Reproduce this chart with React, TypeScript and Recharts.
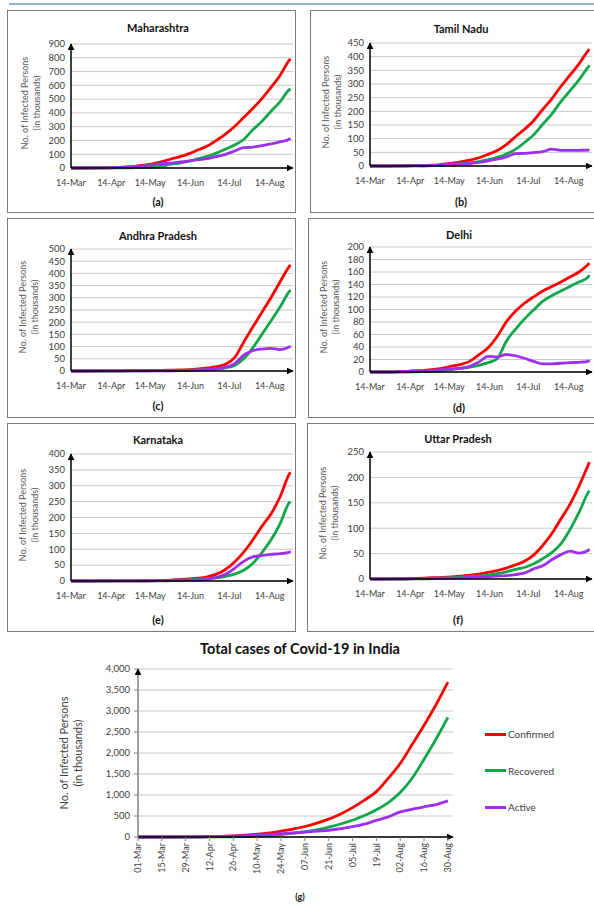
import { LineChart, Line, XAxis, YAxis, CartesianGrid, Legend } from 'recharts'

const FONT = 'Lato, "Open Sans", sans-serif'
const RED = '#FF0000'
const GREEN = '#10A64A'
const PURPLE = '#9D30EF'
const LINE_W = 2.8

// state panels: days counted from 14-Mar, sampled weekly up to 30-Aug
const stateDays = [0, 7, 14, 21, 28, 35, 42, 49, 56, 63, 70, 77, 84, 91, 98, 105, 112, 119, 126, 133, 140, 147, 154, 161, 168, 169]
const stateTicks = [0, 31, 61, 92, 122, 153]
const stateTickLabels = ['14-Mar', '14-Apr', '14-May', '14-Jun', '14-Jul', '14-Aug']

const mhConfirmed = [0.01, 0.06, 0.19, 0.64, 1.76, 3.65, 7.63, 12.3, 20.2, 30.7, 47.2, 65.2, 82.9, 104.6, 132.1, 159.1, 200.1, 246.6, 300.9, 366.4, 431.7, 503.1, 584.8, 671.9, 780.7, 792.5]
const mhRecovered = [0, 0, 0.02, 0.05, 0.2, 0.5, 1.3, 2.1, 3.5, 7.1, 13.4, 28.1, 36.1, 49.3, 67.7, 84.2, 108.1, 136.9, 167.0, 207.2, 276.8, 338.4, 410.7, 480.1, 566.9, 573.6]
const mhActive = [0.01, 0.06, 0.17, 0.55, 1.4, 2.95, 6.0, 9.7, 15.8, 22.5, 32.3, 35.2, 43.6, 51.4, 60.4, 67.6, 83.3, 99.2, 123.4, 147.9, 152.0, 162.0, 175.0, 190.0, 208.0, 216.0]
const mhTicks = [0, 100, 200, 300, 400, 500, 600, 700, 800, 900]

const tnConfirmed = [0, 0.01, 0.04, 0.48, 0.97, 1.37, 1.82, 2.76, 6.5, 10.6, 15.5, 21.2, 30.2, 42.7, 56.8, 78.3, 107.0, 134.2, 165.7, 206.7, 245.9, 290.9, 332.1, 373.4, 422.1, 428.0]
const tnRecovered = [0, 0, 0, 0.01, 0.05, 0.28, 0.96, 1.3, 1.8, 3.0, 7.5, 12.0, 16.4, 23.4, 31.3, 44.1, 60.6, 85.9, 113.9, 152.6, 189.9, 235.1, 274.6, 315.3, 362.1, 368.1]
const tnActive = [0, 0.01, 0.04, 0.47, 0.9, 1.1, 0.85, 1.4, 4.7, 7.5, 7.9, 9.1, 13.5, 18.9, 24.8, 33.2, 45.0, 46.3, 49.0, 52.5, 62.0, 57.0, 57.0, 57.5, 58.0, 57.0]
const tnTicks = [0, 50, 100, 150, 200, 250, 300, 350, 400, 450]

const apConfirmed = [0, 0, 0.02, 0.19, 0.4, 0.6, 1.06, 1.46, 1.9, 2.3, 2.7, 3.4, 4.3, 5.7, 8.5, 12.3, 17.7, 28.0, 55.0, 118.0, 180.0, 240.0, 300.0, 365.0, 428.0, 435.0]
const apRecovered = [0, 0, 0, 0, 0.01, 0.04, 0.19, 0.49, 0.84, 1.3, 1.7, 2.2, 2.6, 3.4, 4.3, 5.9, 8.4, 13.2, 22.9, 50.0, 95.0, 150.0, 205.0, 262.0, 325.0, 332.0]
const apActive = [0, 0, 0.02, 0.19, 0.38, 0.54, 0.84, 0.94, 1.0, 0.95, 0.95, 1.1, 1.6, 2.2, 4.1, 6.2, 9.1, 15.0, 30.0, 65.0, 83.0, 90.0, 93.0, 88.0, 98.0, 103.0]
const apTicks = [0, 50, 100, 150, 200, 250, 300, 350, 400, 450, 500]

const dlConfirmed = [0, 0.03, 0.04, 0.45, 1.07, 1.9, 2.6, 4.1, 6.3, 9.3, 12.3, 17.4, 27.7, 38.9, 56.7, 80.2, 97.2, 110.0, 120.1, 129.5, 136.7, 144.1, 151.9, 160.0, 172.0, 174.0]
const dlRecovered = [0, 0, 0, 0.02, 0.03, 0.07, 0.9, 1.3, 2.0, 4.0, 6.0, 8.0, 10.7, 14.9, 21.3, 49.3, 68.3, 84.7, 99.2, 112.9, 122.1, 129.5, 136.9, 144.0, 152.0, 155.0]
const dlActive = [0, 0.03, 0.04, 0.43, 1.03, 1.8, 1.6, 2.7, 4.2, 5.1, 6.0, 9.0, 16.2, 25.0, 24.0, 28.0, 26.0, 22.0, 17.0, 13.0, 13.0, 14.0, 15.0, 15.5, 17.0, 19.0]
const dlTicks = [0, 20, 40, 60, 80, 100, 120, 140, 160, 180, 200]

const kaConfirmed = [0, 0.01, 0.08, 0.14, 0.21, 0.38, 0.5, 0.6, 0.8, 1.1, 1.9, 2.9, 4.8, 6.5, 8.9, 13.2, 21.5, 36.2, 59.7, 90.9, 129.3, 172.1, 211.1, 264.5, 335.9, 342.4]
const kaRecovered = [0, 0, 0, 0.01, 0.03, 0.1, 0.2, 0.3, 0.4, 0.5, 0.6, 0.9, 1.6, 3.4, 5.6, 7.5, 9.8, 14.7, 21.8, 33.8, 55.4, 89.2, 128.8, 180.1, 246.0, 250.0]
const kaActive = [0, 0.01, 0.08, 0.13, 0.17, 0.26, 0.28, 0.27, 0.35, 0.55, 1.3, 1.9, 3.1, 3.0, 3.2, 5.5, 11.4, 20.9, 40.0, 62.0, 76.0, 80.0, 84.0, 86.0, 90.0, 94.0]
const kaTicks = [0, 50, 100, 150, 200, 250, 300, 350, 400]

const upConfirmed = [0, 0.02, 0.06, 0.23, 0.45, 0.97, 1.6, 2.5, 3.2, 4.3, 5.7, 7.7, 9.7, 13.1, 16.6, 21.5, 27.7, 35.1, 47.0, 66.0, 89.0, 118.0, 147.0, 183.0, 224.0, 230.0]
const upRecovered = [0, 0, 0.01, 0.02, 0.05, 0.1, 0.3, 0.7, 1.6, 2.5, 3.4, 4.6, 5.6, 8.0, 10.4, 14.2, 18.8, 22.7, 29.8, 39.9, 52.0, 69.0, 97.0, 131.0, 170.0, 174.0]
const upActive = [0, 0.02, 0.05, 0.2, 0.4, 0.85, 1.3, 1.8, 1.6, 1.8, 2.2, 3.0, 3.8, 4.8, 5.8, 6.8, 8.8, 12.0, 20.0, 26.0, 38.0, 48.0, 55.0, 51.0, 56.0, 59.0]
const upTicks = [0, 50, 100, 150, 200, 250]

// all-India chart: days counted from 01-Mar, weekly
const indiaDays = [0, 7, 14, 21, 28, 35, 42, 49, 56, 63, 70, 77, 84, 91, 98, 105, 112, 119, 126, 133, 140, 147, 154, 161, 168, 175, 182]
const indiaTicks = [0, 14, 28, 42, 56, 70, 84, 98, 112, 126, 140, 154, 168, 182]
const indiaTickLabels = ['01-Mar', '15-Mar', '29-Mar', '12-Apr', '26-Apr', '10-May', '24-May', '07-Jun', '21-Jun', '05-Jul', '19-Jul', '02-Aug', '16-Aug', '30-Aug']
const indiaConfirmed = [0, 0.04, 0.11, 0.4, 1.1, 3.6, 9.2, 16, 28, 42, 67, 95, 139, 190, 250, 330, 425, 550, 700, 880, 1080, 1400, 1750, 2200, 2660, 3150, 3690]
const indiaRecovered = [0, 0, 0, 0.02, 0.1, 0.3, 1, 2.5, 6, 11, 20, 35, 57, 90, 125, 170, 235, 310, 400, 510, 650, 820, 1060, 1400, 1850, 2330, 2850]
const indiaActive = [0, 0.04, 0.1, 0.37, 1, 3.2, 8, 13, 21, 29, 44, 56, 78, 95, 115, 140, 160, 200, 245, 305, 395, 480, 600, 660, 720, 770, 860]
const indiaYTicks = [0, 500, 1000, 1500, 2000, 2500, 3000, 3500, 4000]
const legendOrder = ['Confirmed', 'Recovered', 'Active']

const panels = [
  { id: 'a', title: 'Maharashtra', confirmed: mhConfirmed, recovered: mhRecovered, active: mhActive, yTicks: mhTicks,
    x: 7, y: 10, w: 289, h: 203, plotLeft: 64, plotTop: 34, plotBottom: 158, titleY: 18, captionY: 192, labelX: 24 },
  { id: 'b', title: 'Tamil Nadu', confirmed: tnConfirmed, recovered: tnRecovered, active: tnActive, yTicks: tnTicks,
    x: 310, y: 10, w: 296, h: 203, plotLeft: 60, plotTop: 33, plotBottom: 156, titleY: 19, captionY: 192, labelX: 22 },
  { id: 'c', title: 'Andhra Pradesh', confirmed: apConfirmed, recovered: apRecovered, active: apActive, yTicks: apTicks,
    x: 7, y: 218, w: 289, h: 200, plotLeft: 64, plotTop: 31, plotBottom: 153, titleY: 18, captionY: 188, labelX: 22 },
  { id: 'd', title: 'Delhi', confirmed: dlConfirmed, recovered: dlRecovered, active: dlActive, yTicks: dlTicks,
    x: 308, y: 218, w: 298, h: 200, plotLeft: 62, plotTop: 29, plotBottom: 154, titleY: 17, captionY: 190, labelX: 22 },
  { id: 'e', title: 'Karnataka', confirmed: kaConfirmed, recovered: kaRecovered, active: kaActive, yTicks: kaTicks,
    x: 7, y: 423, w: 289, h: 209, plotLeft: 64, plotTop: 31, plotBottom: 158, titleY: 17, captionY: 197, labelX: 22 },
  { id: 'f', title: 'Uttar Pradesh', confirmed: upConfirmed, recovered: upRecovered, active: upActive, yTicks: upTicks,
    x: 307, y: 423, w: 299, h: 209, plotLeft: 63, plotTop: 29, plotBottom: 156, titleY: 16, captionY: 197, labelX: 22 },
]

function RotatedLabel({ cx, cy, size, color, lines }) {
  return (
    <div style={{
      position: 'absolute', left: cx, top: cy, transform: 'translate(-50%, -50%) rotate(-90deg)',
      whiteSpace: 'nowrap', textAlign: 'center', fontSize: size, lineHeight: `${size + 3}px`, color, fontFamily: FONT,
    }}>
      {lines.map((t) => <div key={t}>{t}</div>)}
    </div>
  )
}

function ArrowDef({ id, color }) {
  return (
    <defs>
      <marker id={id} viewBox="0 0 10 10" refX="9" refY="5" markerWidth="7" markerHeight="7"
        markerUnits="userSpaceOnUse" orient="auto-start-reverse">
        <path d="M0,0 L10,5 L0,10 z" fill={color} />
      </marker>
    </defs>
  )
}

function StatePanel({ p }) {
  const data = stateDays.map((day, i) => ({ day, confirmed: p.confirmed[i], recovered: p.recovered[i], active: p.active[i] }))
  const plotW = 222
  const mk = `arrow-${p.id}`
  return (
    <div style={{ position: 'absolute', left: p.x, top: p.y, width: p.w, height: p.h }}>
      <div style={{ position: 'absolute', inset: 0, border: '1.5px solid #7a7a7a', boxSizing: 'border-box' }} />
      <div style={{ position: 'absolute', left: 0, width: 302, top: p.titleY - 8, textAlign: 'center', fontWeight: 700, fontSize: 11, lineHeight: '16px', fontFamily: FONT, color: '#111' }}>
        {p.title}
      </div>
      <RotatedLabel cx={p.labelX} cy={(p.plotTop + p.plotBottom) / 2 - 3} size={9} color="#595959" lines={['No. of Infected Persons', '(in thousands)']} />
      <div style={{ position: 'absolute', left: 0, top: 0 }}>
        <LineChart width={p.w} height={p.h} data={data}
          margin={{ top: p.plotTop, left: p.plotLeft - 40, right: p.w - p.plotLeft - plotW, bottom: p.h - p.plotBottom - 30 }}>
          <ArrowDef id={mk} color="#000" />
          <CartesianGrid vertical={false} stroke="#c8c8c8" strokeWidth={1} />
          <XAxis type="number" dataKey="day" domain={[0, 171]} ticks={stateTicks} height={30} interval={0}
            tickFormatter={(v) => stateTickLabels[stateTicks.indexOf(v)]}
            tickLine={false} tickSize={6} tickMargin={6}
            tick={{ fontSize: 9, fill: '#404040', fontFamily: FONT }}
            axisLine={{ stroke: '#000', strokeWidth: 1.5, markerEnd: `url(#${mk})` }} />
          <YAxis type="number" domain={[0, p.yTicks[p.yTicks.length - 1]]} ticks={p.yTicks} width={40}
            tickLine={false} tickSize={3} tickMargin={3} interval={0}
            tick={{ fontSize: 9.5, fill: '#404040', fontFamily: FONT }}
            axisLine={{ stroke: '#000', strokeWidth: 1.5, markerStart: `url(#${mk})` }} />
          <Line type="monotone" dataKey="confirmed" stroke={RED} strokeWidth={LINE_W} dot={false} isAnimationActive={false} />
          <Line type="monotone" dataKey="recovered" stroke={GREEN} strokeWidth={LINE_W} dot={false} isAnimationActive={false} />
          <Line type="monotone" dataKey="active" stroke={PURPLE} strokeWidth={LINE_W} dot={false} isAnimationActive={false} />
        </LineChart>
      </div>
      <div style={{ position: 'absolute', left: 0, width: 302, top: p.captionY - 8, textAlign: 'center', fontWeight: 700, fontSize: 11, lineHeight: '16px', fontFamily: FONT, color: '#111' }}>
        ({p.id})
      </div>
    </div>
  )
}

function IndiaTick({ x, y, payload }) {
  const label = indiaTickLabels[indiaTicks.indexOf(payload.value)]
  return (
    <text x={x} y={y} transform={`rotate(-90 ${x} ${y})`} textAnchor="end" dy="0.35em"
      fontSize={9} fill="#404040" fontFamily={FONT}>{label}</text>
  )
}

function IndiaLegend({ payload }) {
  const items = [...(payload || [])].sort((a, b) => legendOrder.indexOf(a.value) - legendOrder.indexOf(b.value))
  return (
    <div style={{ fontFamily: FONT }}>
      {items.map((e) => (
        <div key={e.value} style={{ height: 36.5, display: 'flex', alignItems: 'center' }}>
          <div style={{ width: 21, height: 3, background: e.color, marginRight: 2 }} />
          <span style={{ fontSize: 10, color: '#404040' }}>{e.value}</span>
        </div>
      ))}
    </div>
  )
}

function IndiaChart() {
  const data = indiaDays.map((day, i) => ({ day, Confirmed: indiaConfirmed[i], Recovered: indiaRecovered[i], Active: indiaActive[i] }))
  return (
    <>
      <div style={{ position: 'absolute', left: 0, width: 600, top: 640, textAlign: 'center', fontWeight: 700, fontSize: 14.5, lineHeight: '18px', fontFamily: FONT, color: '#111' }}>
        Total cases of Covid-19 in India
      </div>
      <RotatedLabel cx={71} cy={753} size={11} color="#404040" lines={['No. of Infected Persons', '(in thousands)']} />
      <div style={{ position: 'absolute', left: 0, top: 660 }}>
        <LineChart width={594} height={232} data={data} margin={{ top: 9, left: 98, right: 141, bottom: 15 }}>
          <ArrowDef id="arrow-g" color="#000" />
          <CartesianGrid vertical={false} stroke="#c8c8c8" strokeWidth={1} />
          <XAxis type="number" dataKey="day" domain={[0, 185]} ticks={indiaTicks} height={40} interval={0}
            tick={<IndiaTick />} tickSize={4} tickMargin={2}
            tickLine={{ stroke: '#808080' }}
            axisLine={{ stroke: '#000', strokeWidth: 1.5, markerEnd: 'url(#arrow-g)' }} />
          <YAxis type="number" domain={[0, 4000]} ticks={indiaYTicks} width={40} interval={0}
            tickFormatter={(v) => v.toLocaleString('en-US')}
            tickSize={4} tickMargin={4} tickLine={{ stroke: '#808080' }}
            tick={{ fontSize: 9.5, fill: '#404040', fontFamily: FONT }}
            axisLine={{ stroke: '#808080', strokeWidth: 1.5, markerStart: 'url(#arrow-g)' }} />
          <Legend layout="vertical" align="center" verticalAlign="middle" content={<IndiaLegend />}
            wrapperStyle={{ left: 485, top: 56, width: 90, height: 'auto' }} />
          <Line type="monotone" dataKey="Confirmed" stroke={RED} strokeWidth={LINE_W} dot={false} isAnimationActive={false} />
          <Line type="monotone" dataKey="Recovered" stroke={GREEN} strokeWidth={LINE_W} dot={false} isAnimationActive={false} />
          <Line type="monotone" dataKey="Active" stroke={PURPLE} strokeWidth={LINE_W} dot={false} isAnimationActive={false} />
        </LineChart>
      </div>
      <div style={{ position: 'absolute', left: 0, width: 600, top: 890, textAlign: 'center', fontWeight: 700, fontSize: 9, lineHeight: '14px', fontFamily: FONT, color: '#111' }}>
        (g)
      </div>
    </>
  )
}

export default function App() {
  return (
    <div style={{ position: 'absolute', left: 0, top: 0, width: 594, height: 904, background: '#fff', overflow: 'hidden' }}>
      <div style={{ position: 'absolute', left: 9, top: 3, width: 585, height: 2, background: '#8fb1da' }} />
      {panels.map((p) => <StatePanel key={p.id} p={p} />)}
      <IndiaChart />
    </div>
  )
}
